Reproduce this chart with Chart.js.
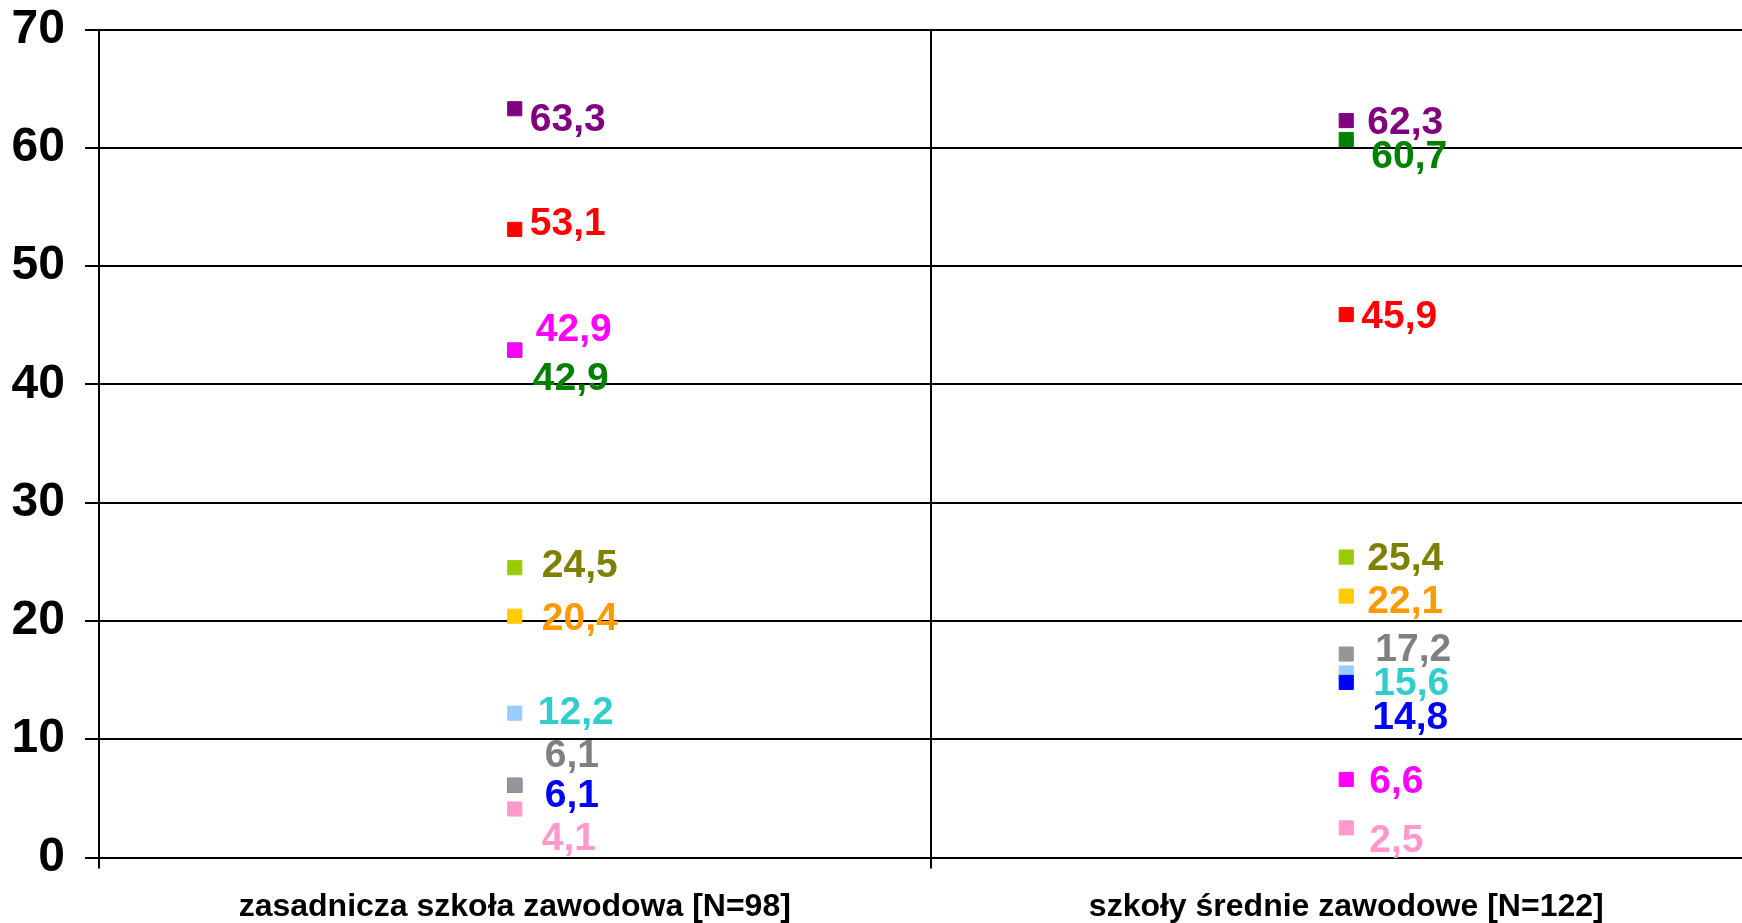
<!DOCTYPE html>
<html>
<head>
<meta charset="utf-8">
<script src="https://cdn.jsdelivr.net/npm/chart.js@4"></script>
<style>
  html, body { margin: 0; padding: 0; background: #fff; overflow: hidden; }
  #wrap { width: 1773px; height: 923px; }
</style>
</head>
<body>
<div id="wrap"><canvas id="chart" width="1773" height="923"></canvas></div>
<script>
const categories = ['zasadnicza szkoła zawodowa [N=98]', 'szkoły średnie zawodowe [N=122]'];

const purpleValues = [63.3, 62.3];
const redValues = [53.1, 45.9];
const magentaValues = [42.9, 6.6];
const greenValues = [42.9, 60.7];
const limeValues = [24.5, 25.4];
const yellowValues = [20.4, 22.1];
const greyValues = [6.1, 17.2];
const blueValues = [6.1, 14.8];
const lightBlueValues = [12.2, 15.6];
const pinkValues = [4.1, 2.5];

const yTicks = [0, 10, 20, 30, 40, 50, 60, 70];

// marker colour, label colour, label nudge [dx, dy] per category
const series = [
  { data: purpleValues, marker: '#800080', text: '#800080', nudge: [[15, 8], [21, -1]] },
  { data: redValues, marker: '#FF0000', text: '#FF0000', nudge: [[15, -8], [15, -1]] },
  { data: magentaValues, marker: '#FF00FF', text: '#FF00FF', nudge: [[21, -23], [23, 0]] },
  { data: greenValues, marker: '#008000', text: '#008000', nudge: [[18, 26], [25, 15]] },
  { data: limeValues, marker: '#99CC00', text: '#808000', nudge: [[27, -5], [21, -1]] },
  { data: yellowValues, marker: '#FFCC00', text: '#FF9900', nudge: [[27, 0], [21, 3]] },
  { data: greyValues, marker: '#969696', text: '#808080', nudge: [[30, -32], [29, -7]] },
  { data: blueValues, marker: '#0000FF', text: '#0000FF', nudge: [[30, 8], [26, 33]] },
  { data: lightBlueValues, marker: '#99CCFF', text: '#33CCCC', nudge: [[23, -3], [27, 8]] },
  { data: pinkValues, marker: '#FF99CC', text: '#FF99CC', nudge: [[27, 27], [23, 10]] }
];

const FONT = "'Liberation Sans', Arial, sans-serif";
const LABEL_SIZE = 39;

const valueLabels = {
  id: 'valueLabels',
  afterDatasetsDraw(chart) {
    const ctx = chart.ctx;
    ctx.save();
    ctx.font = 'bold ' + LABEL_SIZE + 'px ' + FONT;
    ctx.textAlign = 'left';
    ctx.textBaseline = 'alphabetic';
    chart.data.datasets.forEach((ds, di) => {
      const meta = chart.getDatasetMeta(di);
      meta.data.forEach((pt, i) => {
        const n = series[di].nudge[i];
        const txt = ds.data[i].toFixed(1).replace('.', ',');
        ctx.fillStyle = series[di].text;
        ctx.fillText(txt, pt.x + n[0], pt.y + n[1] + LABEL_SIZE * 0.358);
      });
    });
    ctx.restore();
  }
};

new Chart(document.getElementById('chart'), {
  type: 'line',
  data: {
    labels: categories,
    datasets: series.map((s, i) => ({
      label: 'Seria ' + (i + 1),
      data: s.data,
      showLine: false,
      pointStyle: 'rect',
      pointRadius: 10,
      pointBorderWidth: 1,
      pointBackgroundColor: s.marker,
      pointBorderColor: s.marker
    }))
  },
  options: {
    responsive: false,
    animation: false,
    layout: { padding: { top: 29.5, right: 1, left: 0, bottom: 0 } },
    plugins: {
      legend: { display: false },
      tooltip: { enabled: false }
    },
    scales: {
      x: {
        offset: true,
        grid: { offset: true, color: '#000', lineWidth: 2, tickLength: 11 },
        border: { color: '#000', width: 2 },
        ticks: {
          color: '#000',
          font: { family: FONT, size: 32, weight: 'bold' },
          maxRotation: 0,
          autoSkip: false,
          padding: 19
        },
        afterFit(scale) {
          scale.height = 65.5;
          scale.paddingLeft = 0;
          scale.paddingRight = 0;
        }
      },
      y: {
        min: 0,
        max: 70,
        afterBuildTicks(scale) { scale.ticks = yTicks.map(v => ({ value: v })); },
        grid: { color: '#000', lineWidth: 2, tickLength: 14 },
        border: { color: '#000', width: 2 },
        ticks: {
          color: '#000',
          font: { family: FONT, size: 48, weight: 'bold' },
          padding: 20
        },
        afterFit(scale) {
          scale.width = 99;
          scale.paddingTop = 0;
          scale.paddingBottom = 0;
        }
      }
    }
  },
  plugins: [valueLabels]
});
</script>
</body>
</html>
